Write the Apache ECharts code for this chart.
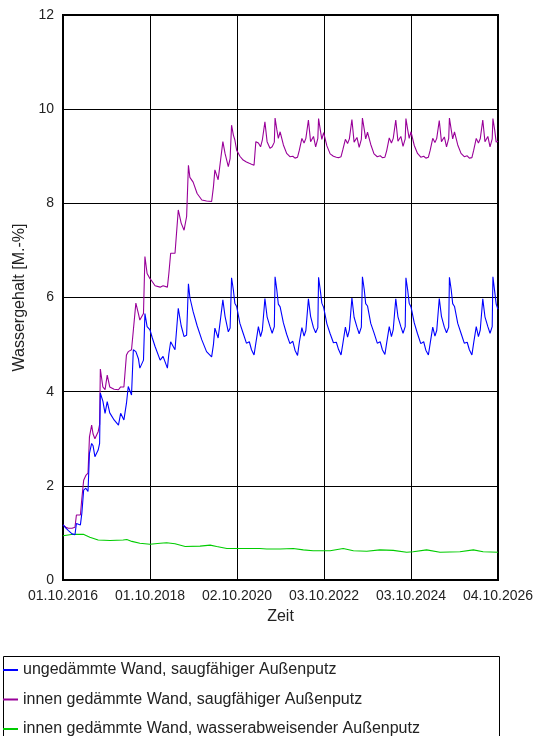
<!DOCTYPE html>
<html>
<head>
<meta charset="utf-8">
<script src="https://cdn.jsdelivr.net/npm/echarts@6/dist/echarts.min.js"></script>
<style>
  html, body { margin: 0; padding: 0; background: #fff; }
  #main { width: 549px; height: 736px; }
</style>
</head>
<body>
<div id="main"></div>
<script>
// Zeitachse in Monaten ab 01.10.2016
const zeitLabels = ['01.10.2016', '01.10.2018', '02.10.2020', '03.10.2022', '03.10.2024', '04.10.2026'];

// gemeinsame Zeitpunkte (Monate) fuer die beiden saugfaehigen Varianten
const monate = [
  0, 0.8, 1.5, 2.5, 3.3, 3.7, 4.8, 5.2, 5.7, 6.3, 6.9, 7.3, 7.9, 8.3, 8.8, 9.7, 10.1, 10.3, 11.0, 11.6,
  12.2, 12.9, 14.1, 15.3, 15.9, 16.8, 17.5, 18.0, 18.9, 19.4, 20.1, 20.8, 21.2, 22.2, 22.6, 23.2, 24.0, 24.6, 25.4, 26.8,
  27.6, 28.8, 29.2, 29.7, 30.9, 31.8, 32.6, 33.4, 34.1, 34.6, 35.0, 35.9, 37.0, 38.3, 39.6, 41.0, 41.5, 41.9, 42.8, 44.1,
  44.7, 45.6, 46.1,
  46.5, 47.0, 47.4, 47.9, 48.8, 49.7, 50.6, 51.4, 52.0, 52.7, 53.2, 53.9, 54.5, 55.0, 55.7, 56.3, 57.1, 57.7, 58.3,
  58.5, 59.0, 59.4, 59.9, 60.8, 61.7, 62.6, 63.4, 64.0, 64.7, 65.2, 65.9, 66.5, 67.0, 67.7, 68.3, 69.1, 69.7, 70.3,
  70.5, 71.0, 71.4, 71.9, 72.8, 73.7, 74.6, 75.4, 76.0, 76.7, 77.2, 77.9, 78.5, 79.0, 79.7, 80.3, 81.1, 81.7, 82.3,
  82.6, 83.1, 83.5, 84.0, 84.9, 85.8, 86.7, 87.5, 88.1, 88.8, 89.3, 90.0, 90.6, 91.1, 91.8, 92.4, 93.2, 93.8, 94.4,
  94.6, 95.1, 95.5, 96.0, 96.9, 97.8, 98.7, 99.5, 100.1, 100.8, 101.3, 102.0, 102.6, 103.1, 103.8, 104.4, 105.2, 105.8, 106.4,
  106.6, 107.1, 107.5, 108.0, 108.9, 109.8, 110.7, 111.5, 112.1, 112.8, 113.3, 114.0, 114.6, 115.1, 115.8, 116.4, 117.2, 117.8, 118.4,
  118.6, 119.1, 119.5, 120.0
];

const ungedaemmt = [
  1.17, 1.10, 1.05, 0.98, 0.96, 1.20, 1.17, 1.42, 1.91, 1.95, 1.88, 2.69, 2.90, 2.85, 2.62, 2.76, 2.90, 3.97, 3.80, 3.54,
  3.79, 3.55, 3.40, 3.29, 3.54, 3.40, 3.75, 4.11, 3.93, 4.89, 4.85, 4.70, 4.50, 4.67, 5.66, 5.38, 5.31, 5.15, 4.96, 4.67,
  4.75, 4.50, 4.80, 5.06, 4.89, 5.77, 5.40, 5.17, 5.20, 6.29, 6.00, 5.70, 5.40, 5.10, 4.85, 4.74, 5.00, 5.35, 5.14, 5.95,
  5.60, 5.27, 5.35,
  6.42, 6.16, 5.88, 5.81, 5.45, 5.24, 5.03, 5.06, 4.89, 4.78, 5.03, 5.38, 5.17, 5.31, 5.98, 5.59, 5.38, 5.24, 5.38,
  6.44, 6.15, 5.86, 5.80, 5.46, 5.22, 5.02, 5.07, 4.88, 4.77, 5.05, 5.36, 5.18, 5.30, 5.97, 5.60, 5.36, 5.25, 5.36,
  6.43, 6.14, 5.88, 5.79, 5.44, 5.23, 5.04, 5.05, 4.90, 4.78, 5.02, 5.37, 5.16, 5.31, 5.99, 5.58, 5.37, 5.23, 5.37,
  6.44, 6.17, 5.87, 5.82, 5.45, 5.25, 5.03, 5.06, 4.89, 4.79, 5.04, 5.38, 5.17, 5.32, 5.97, 5.59, 5.38, 5.24, 5.38,
  6.42, 6.15, 5.88, 5.80, 5.46, 5.23, 5.02, 5.06, 4.88, 4.78, 5.03, 5.37, 5.18, 5.30, 5.98, 5.60, 5.37, 5.25, 5.37,
  6.43, 6.16, 5.87, 5.81, 5.45, 5.24, 5.03, 5.05, 4.89, 4.78, 5.04, 5.38, 5.17, 5.31, 5.97, 5.59, 5.38, 5.24, 5.38,
  6.44, 6.12, 5.86, 5.75
];

const innenSaugfaehig = [
  1.17, 1.12, 1.10, 1.10, 1.12, 1.38, 1.38, 1.73, 2.12, 2.22, 2.27, 3.04, 3.29, 3.10, 3.00, 3.15, 3.30, 4.48, 4.10, 4.04,
  4.35, 4.10, 4.05, 4.04, 4.10, 4.10, 4.78, 4.85, 4.89, 5.30, 5.88, 5.66, 5.52, 5.66, 6.87, 6.51, 6.40, 6.34, 6.25, 6.22,
  6.25, 6.22, 6.51, 6.94, 6.94, 7.86, 7.58, 7.43, 7.72, 8.81, 8.55, 8.45, 8.21, 8.07, 8.05, 8.04, 8.35, 8.71, 8.50, 9.31,
  9.06, 8.78, 8.95,
  9.66, 9.45, 9.35, 9.13, 9.00, 8.92, 8.88, 8.85, 8.83, 8.81, 9.31, 9.28, 9.20, 9.35, 9.73, 9.31, 9.17, 9.20, 9.30,
  9.81, 9.56, 9.38, 9.52, 9.24, 9.06, 8.99, 9.00, 8.96, 8.98, 9.13, 9.38, 9.28, 9.38, 9.77, 9.31, 9.42, 9.20, 9.38,
  9.80, 9.55, 9.36, 9.50, 9.22, 9.05, 9.00, 8.98, 8.97, 8.99, 9.14, 9.36, 9.27, 9.37, 9.78, 9.30, 9.40, 9.19, 9.36,
  9.81, 9.57, 9.37, 9.51, 9.25, 9.05, 8.99, 9.01, 8.97, 8.98, 9.12, 9.39, 9.28, 9.38, 9.77, 9.32, 9.42, 9.21, 9.37,
  9.80, 9.56, 9.38, 9.52, 9.23, 9.06, 8.98, 9.00, 8.96, 8.98, 9.13, 9.38, 9.29, 9.38, 9.76, 9.31, 9.41, 9.20, 9.38,
  9.81, 9.56, 9.37, 9.52, 9.24, 9.06, 8.99, 9.01, 8.96, 8.97, 9.13, 9.38, 9.28, 9.37, 9.77, 9.31, 9.42, 9.20, 9.37,
  9.80, 9.55, 9.30, 9.32
];

// wasserabweisender Aussenputz: eigene Zeitpunkte
const monateWa = [
  0, 2.8, 5.6, 7.4, 9.7, 13.0, 16.6, 17.6, 19.0, 21.2, 24.0, 26.8, 28.6, 30.9, 33.7, 37.8, 40.6, 42.4, 45.2, 50.7,
  54.3, 56.2, 59.9, 63.5, 66.3, 69.0, 73.7, 77.3, 80.1, 83.8, 87.4, 91.1, 94.8, 96.6, 100.3, 104.0, 109.5, 113.2, 115.9, 120
];
const innenWasserabweisend = [
  0.94, 0.97, 0.97, 0.91, 0.85, 0.84, 0.85, 0.86, 0.82, 0.78, 0.76, 0.78, 0.79, 0.77, 0.71, 0.72, 0.74, 0.71, 0.67, 0.67,
  0.67, 0.66, 0.66, 0.67, 0.64, 0.62, 0.62, 0.67, 0.62, 0.61, 0.64, 0.63, 0.59, 0.60, 0.64, 0.59, 0.60, 0.64, 0.60, 0.59
];

const namen = [
  'ungedämmte Wand, saugfähiger Außenputz',
  'innen gedämmte Wand, saugfähiger Außenputz',
  'innen gedämmte Wand, wasserabweisender Außenputz'
];

function paare(xs, ys) {
  return xs.map((x, i) => [x, ys[i]]);
}

const font = '"Liberation Sans", Arial, sans-serif';
let myChart = echarts.init(document.getElementById('main'), null, { renderer: 'canvas' });

let option = {
  animation: false,
  backgroundColor: '#fff',
  textStyle: { fontFamily: font },
  grid: {
    left: 63,
    right: 51,
    top: 15,
    bottom: 156,
    show: true,
    borderColor: '#000',
    borderWidth: 2
  },
  legend: {
    orient: 'vertical',
    left: 3,
    top: 662,
    width: 480,
    height: 120,
    padding: 0,
    itemGap: 13.5,
    itemWidth: 15,
    itemHeight: 2,
    icon: 'rect',
    textStyle: { fontFamily: font, fontSize: 16, color: '#222' },
    data: namen
  },
  graphic: [{
    type: 'rect',
    left: 1,
    top: 654,
    shape: { width: 496, height: 100 },
    style: { fill: 'none', stroke: '#000', lineWidth: 1 },
    silent: true
  }],
  xAxis: {
    type: 'value',
    min: 0,
    max: 120,
    interval: 24,
    name: 'Zeit',
    nameLocation: 'middle',
    nameGap: 29,
    nameTextStyle: { fontFamily: font, fontSize: 16, color: '#222' },
    axisLine: { show: false },
    axisTick: { show: false },
    axisLabel: {
      fontFamily: font,
      fontSize: 14,
      color: '#222',
      margin: 9,
      formatter: function (v) { return zeitLabels[Math.round(v / 24)]; }
    },
    splitLine: { show: true, lineStyle: { color: '#000', width: 1 } }
  },
  yAxis: {
    type: 'value',
    min: 0,
    max: 12,
    interval: 2,
    name: 'Wassergehalt [M.-%]',
    nameLocation: 'middle',
    nameGap: 27,
    nameTextStyle: { fontFamily: font, fontSize: 16, color: '#222' },
    axisLine: { show: false },
    axisTick: { show: false },
    axisLabel: { fontFamily: font, fontSize: 14, color: '#222', margin: 9 },
    splitLine: { show: true, lineStyle: { color: '#000', width: 1 } }
  },
  series: [{
    name: namen[0],
    type: 'line',
    data: paare(monate, ungedaemmt),
    showSymbol: false,
    z: 4,
    lineStyle: { color: '#0000ff', width: 1.1 },
    itemStyle: { color: '#0000ff' }
  }, {
    name: namen[1],
    type: 'line',
    data: paare(monate, innenSaugfaehig),
    showSymbol: false,
    z: 3,
    lineStyle: { color: '#990099', width: 1.1 },
    itemStyle: { color: '#990099' }
  }, {
    name: namen[2],
    type: 'line',
    data: paare(monateWa, innenWasserabweisend),
    showSymbol: false,
    z: 2,
    lineStyle: { color: '#00cc00', width: 1.1 },
    itemStyle: { color: '#00cc00' }
  }]
};

myChart.setOption(option);
</script>
</body>
</html>
